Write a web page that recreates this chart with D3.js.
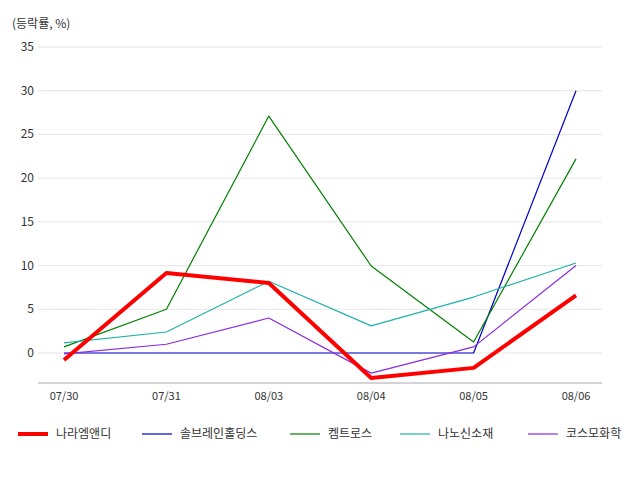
<!DOCTYPE html>
<html><head><meta charset="utf-8">
<script src="https://cdn.jsdelivr.net/npm/d3@7"></script>
<style>body{margin:0;background:#fff;font-family:"Noto Sans CJK KR","Noto Sans",sans-serif}</style>
</head><body><svg id="c" width="640" height="480"></svg>
<script>
const categories=["07/30","07/31","08/03","08/04","08/05","08/06"];
const seriesNames=["나라엠앤디","솔브레인홀딩스","켐트로스","나노신소재","코스모화학"];
const colors=["#ff0000","#0000cc","#008000","#20b2aa","#8a2be2"];
const widths=[4,1.2,1.2,1.2,1.2];
const s0=[-0.8,9.15,8.0,-2.86,-1.7,6.6];
const s1=[0,0,0,0,0,30];
const s2=[0.7,5.0,27.1,9.95,1.26,22.2];
const s3=[1.15,2.4,8.2,3.1,6.4,10.3];
const s4=[-0.1,1.0,4.0,-2.3,0.7,10.0];
const yTicks=[0,5,10,15,20,25,30,35];
const series=[s0,s1,s2,s3,s4];
const svg=d3.select("#c");
const x=d3.scalePoint().domain(categories).range([64,576]);
const y=d3.scaleLinear().domain([-3.43,35]).range([383,47]);
svg.append("g").selectAll("line").data(yTicks).join("line")
 .attr("x1",38).attr("x2",602).attr("y1",d=>y(d)).attr("y2",d=>y(d)).attr("stroke","#e6e6e6");
svg.append("g").selectAll("text").data(yTicks).join("text")
 .attr("x",34).attr("y",d=>y(d)+4).attr("text-anchor","end").attr("font-size",12).attr("fill","#333").text(d=>d);
svg.append("line").attr("x1",38).attr("x2",602).attr("y1",383).attr("y2",383).attr("stroke","#aaa");
svg.append("g").selectAll("text").data(categories).join("text")
 .attr("x",d=>x(d)).attr("y",400).attr("text-anchor","middle").attr("font-size",11).attr("fill","#333").text(d=>d);
svg.append("text").attr("x",12).attr("y",28).attr("font-size",12).attr("fill","#333").text("(등락률, %)");
const line=d3.line().x((d,i)=>x(categories[i])).y(d=>y(d));
[1,2,3,4,0].forEach(k=>{
 svg.append("path").attr("d",line(series[k])).attr("fill","none").attr("stroke",colors[k]).attr("stroke-width",widths[k]).attr("stroke-linejoin","round");
});
const lx=[18,142,290,400,528];
seriesNames.forEach((n,i)=>{
 svg.append("line").attr("x1",lx[i]).attr("x2",lx[i]+30).attr("y1",434).attr("y2",434).attr("stroke",colors[i]).attr("stroke-width",widths[i]);
 svg.append("text").attr("x",lx[i]+38).attr("y",438).attr("font-size",12).attr("fill","#333").text(n);
});
</script></body></html>
